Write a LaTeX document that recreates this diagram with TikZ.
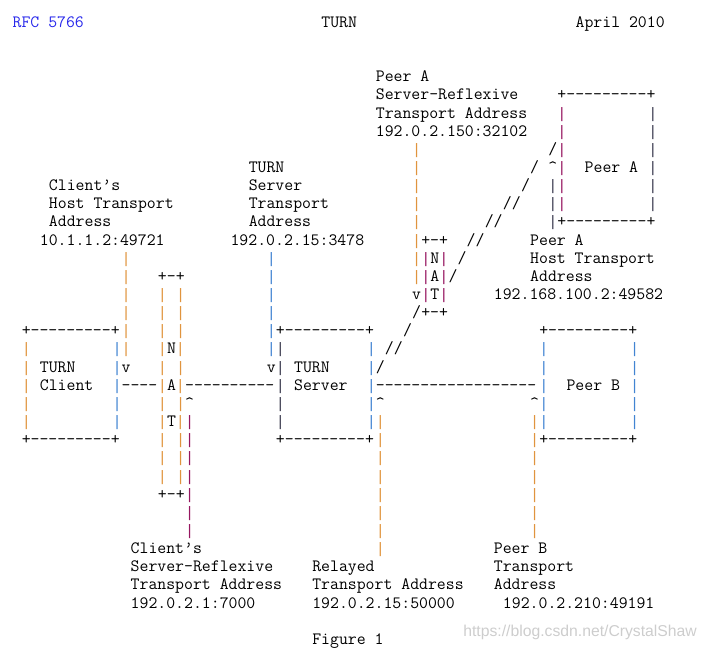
\documentclass[tikz,border=0pt]{standalone}
\usepackage{fontspec}
\newfontfamily\wmfont{Liberation Sans}
\newfontfamily\barfont{Liberation Mono}
\usetikzlibrary{positioning}

\definecolor{rfcblue}{RGB}{40,40,235}
\definecolor{barorange}{RGB}{224,148,62}
\definecolor{barblue}{RGB}{66,132,210}
\definecolor{barpurple}{RGB}{150,22,96}
\definecolor{bardark}{RGB}{60,60,80}
\definecolor{wmgray}{RGB}{205,205,205}
\newcommand\vb[1]{\textcolor{#1}{\barfont\fontsize{11.35pt}{13.61pt}\selectfont|}}

\begin{document}
\begin{tikzpicture}[
  x=6.81pt, y=-13.6125pt,
  asc/.style={font=\ttfamily\fontsize{12.97pt}{13.61pt}\selectfont,
              inner sep=0pt, anchor=base west},
  bar/.style={asc, font=\barfont\fontsize{11.35pt}{13.61pt}\selectfont,
              text=#1}
]
  \useasboundingbox (-1.366,-1.504) rectangle (76.498,34.25);

  % page header
  \node[asc, text=rfcblue] (rfc)  at (0,0)  {RFC 5766};
  \node[asc]               (ttl)  at (34,0) {TURN};
  \node[asc]               (date) at (62,0) {April 2010};

  % Peer A, server-reflexive address
  \node[asc] (pasr1) at (40,3) {Peer A};
  \node[asc] (pasr2) at (40,4) {Server-Reflexive};
  \node[asc] (pasr3) at (40,5) {Transport Address};
  \node[asc] (pasr4) at (40,6) {192.0.2.150:32102};
  \foreach \r in {7,...,14}
    \node[bar=barorange] (pasl\r) at (44,\r) {|};
  \node[asc] (pasv) at (44,15) {v};

  % Peer A box
  \node[asc] (patop) at (60,4)  {+---------+};
  \node[asc] (pabot) at (60,11) {+---------+};
  \foreach \r in {5,...,10} {
    \node[bar=barpurple] (pal\r) at (60,\r) {|};
    \node[bar=bardark]   (par\r) at (70,\r) {|};
  }
  \node[asc] (pa) at (63,8) {Peer A};

  % Peer A, host address
  \node[asc] (pahup) at (59,8) {\textasciicircum};
  \foreach \r in {9,10,11}
    \node[bar=bardark] (pah\r) at (59,\r) {|};
  \node[asc] (pah1) at (57,12) {Peer A};
  \node[asc] (pah2) at (57,13) {Host Transport};
  \node[asc] (pah3) at (57,14) {Address};
  \node[asc] (pah4) at (53,15) {192.168.100.2:49582};

  % NAT in front of Peer A
  \node[asc] (natbtop) at (45,12) {+-+};
  \node[asc] (natbbot) at (45,16) {+-+};
  \node[asc] (natbn) at (45,13) {\vb{barpurple}N\vb{barpurple}};
  \node[asc] (natba) at (45,14) {\vb{barpurple}A\vb{barpurple}};
  \node[asc] (natbt) at (45,15) {\vb{barpurple}T\vb{barpurple}};

  % path relay -> Peer A
  \node[asc] (d7)  at (59,7)  {/};
  \node[asc] (d8)  at (57,8)  {/};
  \node[asc] (d9)  at (56,9)  {/};
  \node[asc] (d10) at (54,10) {//};
  \node[asc] (d11) at (52,11) {//};
  \node[asc] (d12) at (50,12) {//};
  \node[asc] (d13) at (49,13) {/};
  \node[asc] (d14) at (48,14) {/};
  \node[asc] (d16) at (44,16) {/};
  \node[asc] (d17) at (43,17) {/};
  \node[asc] (d18) at (41,18) {//};
  \node[asc] (d19) at (40,19) {/};

  % TURN server address
  \node[asc] (tsa1) at (26,8)  {TURN};
  \node[asc] (tsa2) at (26,9)  {Server};
  \node[asc] (tsa3) at (26,10) {Transport};
  \node[asc] (tsa4) at (26,11) {Address};
  \node[asc] (tsa5) at (24,12) {192.0.2.15:3478};
  \foreach \r in {13,...,18}
    \node[bar=barblue] (tsal\r) at (28,\r) {|};
  \node[asc] (tsav) at (28,19) {v};

  % client host address
  \node[asc] (cha1) at (4,9)  {Client’s};
  \node[asc] (cha2) at (4,10) {Host Transport};
  \node[asc] (cha3) at (4,11) {Address};
  \node[asc] (cha4) at (3,12) {10.1.1.2:49721};
  \foreach \r in {13,...,18}
    \node[bar=barorange] (chal\r) at (12,\r) {|};
  \node[asc] (chav) at (12,19) {v};

  % NAT in front of the client
  \node[asc] (natatop) at (16,14) {+-+};
  \node[asc] (natabot) at (16,26) {+-+};
  \foreach \r in {15,16,17,19,21,23,24,25} {
    \node[bar=barorange] (natal\r) at (16,\r) {|};
    \node[bar=barorange] (natar\r) at (18,\r) {|};
  }
  \node[asc] (natan) at (16,18) {\vb{barorange}N\vb{barorange}};
  \node[asc] (nataa) at (16,20) {\vb{barorange}A\vb{barorange}};
  \node[asc] (natat) at (16,22) {\vb{barorange}T\vb{barorange}};

  % TURN client box
  \node[asc] (tctop) at (1,17) {+---------+};
  \node[asc] (tcbot) at (1,23) {+---------+};
  \foreach \r in {18,...,22} {
    \node[bar=barorange] (tcl\r) at (1,\r)  {|};
    \node[bar=barblue]   (tcr\r) at (11,\r) {|};
  }
  \node[asc] (tc1) at (3,19) {TURN};
  \node[asc] (tc2) at (3,20) {Client};

  % TURN server box
  \node[asc] (tstop) at (29,17) {+---------+};
  \node[asc] (tsbot) at (29,23) {+---------+};
  \foreach \r in {18,...,22} {
    \node[bar=bardark] (tsl\r) at (29,\r) {|};
    \node[bar=barblue] (tsr\r) at (39,\r) {|};
  }
  \node[asc] (ts1) at (31,19) {TURN};
  \node[asc] (ts2) at (31,20) {Server};

  % Peer B box
  \node[asc] (pbtop) at (58,17) {+---------+};
  \node[asc] (pbbot) at (58,23) {+---------+};
  \foreach \r in {18,...,22} {
    \node[bar=barblue] (pbl\r) at (58,\r) {|};
    \node[bar=barblue] (pbr\r) at (68,\r) {|};
  }
  \node[asc] (pb) at (61,20) {Peer B};

  % data path client -> server -> Peer B
  \node[asc] (h1) at (12,20) {----};
  \node[asc] (h2) at (19,20) {----------};
  \node[asc] (h3) at (40,20) {------------------};

  % client server-reflexive address
  \node[asc] (csrup) at (19,21) {\textasciicircum};
  \foreach \r in {22,...,28}
    \node[bar=barpurple] (csrl\r) at (19,\r) {|};
  \node[asc] (csr1) at (13,29) {Client’s};
  \node[asc] (csr2) at (13,30) {Server-Reflexive};
  \node[asc] (csr3) at (13,31) {Transport Address};
  \node[asc] (csr4) at (13,32) {192.0.2.1:7000};

  % relayed address
  \node[asc] (relup) at (40,21) {\textasciicircum};
  \foreach \r in {22,...,29}
    \node[bar=barorange] (rell\r) at (40,\r) {|};
  \node[asc] (rel1) at (33,30) {Relayed};
  \node[asc] (rel2) at (33,31) {Transport Address};
  \node[asc] (rel3) at (33,32) {192.0.2.15:50000};

  % Peer B address
  \node[asc] (pbaup) at (57,21) {\textasciicircum};
  \foreach \r in {22,...,28}
    \node[bar=barorange] (pbal\r) at (57,\r) {|};
  \node[asc] (pba1) at (53,29) {Peer B};
  \node[asc] (pba2) at (53,30) {Transport};
  \node[asc] (pba3) at (53,31) {Address};
  \node[asc] (pba4) at (54,32) {192.0.2.210:49191};

  \node[asc] (fig) at (33,34) {Figure 1};
  \node[anchor=base west, inner sep=0pt, text=wmgray,
        font=\wmfont\fontsize{11.8pt}{13pt}\selectfont] (wm) at (49.63,33.59)
        {https://blog.csdn.net/CrystalShaw};
\end{tikzpicture}
\end{document}
